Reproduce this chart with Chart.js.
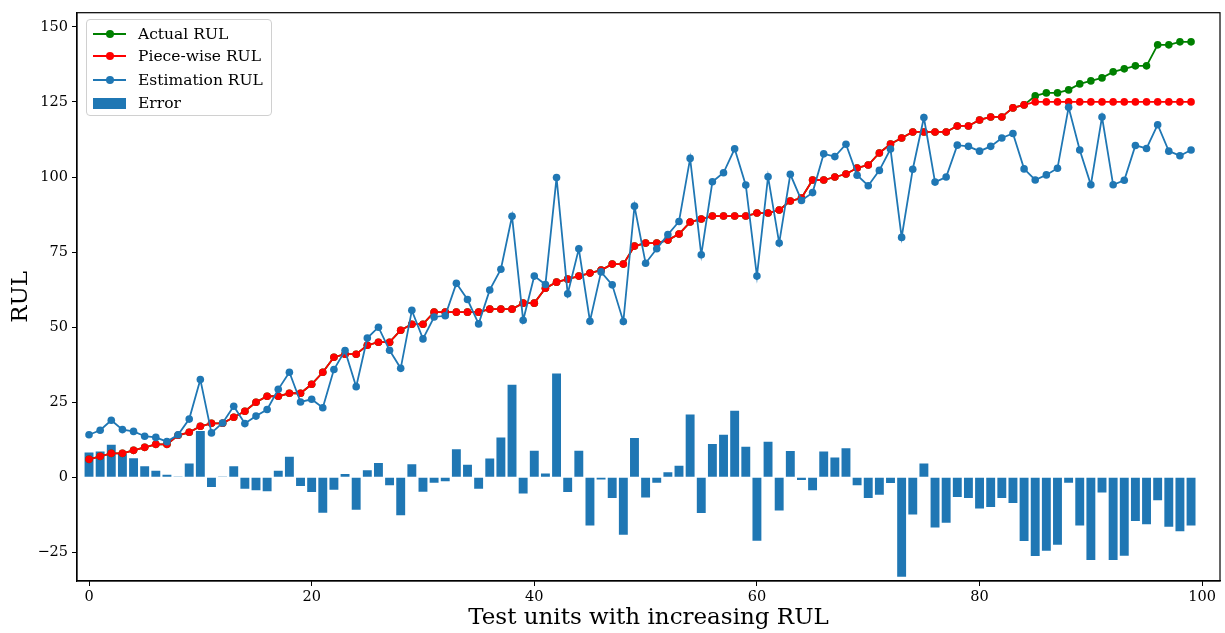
<!DOCTYPE html>
<html>
<head>
<meta charset="utf-8">
<script src="https://cdn.jsdelivr.net/npm/chart.js@4.4.1/dist/chart.umd.min.js"></script>
<style>
  html, body { margin: 0; padding: 0; background: #fff; }
  #wrap { position: relative; width: 1225px; height: 633px; }
  #legend {
    position: absolute; left: 86px; top: 19px; width: 186px; height: 97px;
    box-sizing: border-box; border: 1px solid #d0d0d0; border-radius: 4px;
    background: rgba(255,255,255,0.85);
    font-family: "DejaVu Serif", serif; font-size: 15.5px; color: #000;
  }
  .row { position: absolute; left: 0; height: 20px; width: 100%; }
  .row .txt { position: absolute; left: 51px; top: 0; line-height: 20px; white-space: nowrap; }
  .row .ln { position: absolute; left: 6px; top: 9px; width: 33px; height: 2px; }
  .row .dot { position: absolute; left: 18.5px; top: 6px; width: 8px; height: 8px; border-radius: 50%; }
  .row .patch { position: absolute; left: 6px; top: 4.5px; width: 33px; height: 11px; }
</style>
</head>
<body>
<div id="wrap">
  <canvas id="c" width="1225" height="633"></canvas>
  <div id="legend">
    <div class="row" style="top:3.7px"><div class="ln" style="background:#008000"></div><div class="dot" style="background:#008000"></div><div class="txt">Actual RUL</div></div>
    <div class="row" style="top:26.3px"><div class="ln" style="background:#ff0000"></div><div class="dot" style="background:#ff0000"></div><div class="txt">Piece-wise RUL</div></div>
    <div class="row" style="top:49.7px"><div class="ln" style="background:#1f77b4"></div><div class="dot" style="background:#1f77b4"></div><div class="txt">Estimation RUL</div></div>
    <div class="row" style="top:73px"><div class="patch" style="background:#1f77b4"></div><div class="txt">Error</div></div>
  </div>
</div>
<script>
// ---- data ----
const units = [0,1,2,3,4,5,6,7,8,9,10,11,12,13,14,15,16,17,18,19,20,21,22,23,24,25,26,27,28,29,30,31,32,33,34,35,36,37,38,39,40,41,42,43,44,45,46,47,48,49,50,51,52,53,54,55,56,57,58,59,60,61,62,63,64,65,66,67,68,69,70,71,72,73,74,75,76,77,78,79,80,81,82,83,84,85,86,87,88,89,90,91,92,93,94,95,96,97,98,99];

const actualRUL = [6,7,8,8,9,10,11,11,14,15,17,18,18,20,22,25,27,27,28,28,31,35,40,41,41,44,45,45,49,51,51,55,55,55,55,55,56,56,56,58,58,63,65,66,67,68,69,71,71,77,78,78,79,81,85,86,87,87,87,87,88,88,89,92,93,99,99,100,101,103,104,108,111,113,115,115,115,115,117,117,119,120,120,123,124,127,128,128,129,131,132,133,135,136,137,137,144,144,145,145];

const piecewiseRUL = [6,7,8,8,9,10,11,11,14,15,17,18,18,20,22,25,27,27,28,28,31,35,40,41,41,44,45,45,49,51,51,55,55,55,55,55,56,56,56,58,58,63,65,66,67,68,69,71,71,77,78,78,79,81,85,86,87,87,87,87,88,88,89,92,93,99,99,100,101,103,104,108,111,113,115,115,115,115,117,117,119,120,120,123,124,125,125,125,125,125,125,125,125,125,125,125,125,125,125,125];

const estimationRUL = [14.2,15.7,19.0,15.9,15.3,13.7,13.3,11.9,14.2,19.4,32.6,14.8,18.1,23.7,17.9,20.4,22.6,29.3,35.0,25.1,26.0,23.2,35.9,42.2,30.2,46.4,50.0,42.3,36.3,55.6,46.1,53.4,53.8,64.6,59.2,51.1,62.4,69.3,86.9,52.3,67.0,64.2,99.8,61.1,76.1,52.0,68.4,64.1,51.9,90.3,71.3,76.1,80.8,85.2,106.2,74.1,98.4,101.4,109.4,97.3,67.0,100.1,78.0,100.9,92.2,94.8,107.7,106.8,110.9,100.6,97.1,102.2,109.3,79.9,102.6,119.8,98.3,100.0,110.6,110.2,108.6,110.2,113.0,114.5,102.7,99.0,100.7,102.9,123.2,109.0,97.4,120.0,97.4,98.9,110.5,109.5,117.4,108.6,107.1,109.0];

const errorRUL = [8.3,8.6,10.9,7.9,6.4,3.7,2.2,0.9,0.3,4.6,15.4,-3.2,0.1,3.7,-3.8,-4.3,-4.6,2.2,6.9,-2.9,-4.9,-11.8,-4.1,1.1,-10.8,2.4,4.8,-2.6,-12.6,4.4,-4.8,-1.8,-1.3,9.4,4.2,-3.8,6.3,13.3,30.8,-5.4,8.9,1.3,34.6,-4.9,8.9,-16.0,-0.7,-6.9,-19.1,13.1,-6.7,-1.8,1.7,3.9,20.9,-11.9,11.1,14.2,22.2,10.2,-21.1,11.9,-11.0,8.8,-0.9,-4.3,8.6,6.6,9.7,-2.6,-6.9,-5.8,-1.9,-33.1,-12.4,4.6,-16.7,-15.1,-6.5,-6.9,-10.4,-9.9,-6.9,-8.5,-21.2,-26.2,-24.4,-22.4,-1.8,-16.0,-27.5,-5.0,-27.5,-26.1,-14.5,-15.6,-7.6,-16.4,-17.9,-16.0];

const xTickValues = [0, 20, 40, 60, 80, 100];
const yTickValues = [-25, 0, 25, 50, 75, 100, 125, 150];

// ---- build chart ----
const pts = arr => units.map((u, i) => ({ x: u, y: arr[i] }));
const SERIF = "'DejaVu Serif', serif";

const framePlugin = {
  id: 'frame',
  afterDatasetsDraw(chart) {
    const { ctx, chartArea: a } = chart;
    ctx.save();
    ctx.strokeStyle = '#000';
    ctx.lineWidth = 1.2;
    ctx.strokeRect(a.left, a.top, a.right - a.left, a.bottom - a.top);
    ctx.restore();
  }
};

const lineDs = (label, data, color, order) => ({
  type: 'line', label, data: pts(data), order,
  borderColor: color, backgroundColor: color,
  borderWidth: 1.8, pointRadius: 3.8, pointBorderWidth: 0,
  pointBackgroundColor: color, tension: 0, fill: false
});

new Chart(document.getElementById('c'), {
  type: 'bar',
  data: {
    datasets: [
      lineDs('Actual RUL', actualRUL, '#008000', 2),
      lineDs('Piece-wise RUL', piecewiseRUL, '#ff0000', 1),
      lineDs('Estimation RUL', estimationRUL, '#1f77b4', 0),
      { type: 'bar', label: 'Error', data: pts(errorRUL), order: 3,
        backgroundColor: '#1f77b4', borderWidth: 0,
        barPercentage: 1.0, categoryPercentage: 0.8 }
    ]
  },
  options: {
    responsive: false, animation: false, devicePixelRatio: 1, events: [],
    layout: { padding: { top: 11, right: 5, left: 0, bottom: 0 } },
    plugins: { legend: { display: false }, tooltip: { enabled: false } },
    scales: {
      x: {
        type: 'linear', min: -1.08, max: 101.6, offset: false,
        afterBuildTicks: ax => { ax.ticks = xTickValues.map(v => ({ value: v })); },
        afterFit: ax => { ax.height = 52; },
        grid: { display: true, offset: false, drawOnChartArea: false, drawTicks: true, tickLength: 5, tickColor: '#000', tickWidth: 1 },
        border: { display: true, color: '#000', width: 1.2 },
        ticks: { color: '#000', padding: 3, maxRotation: 0, font: { family: SERIF, size: 14.5 } },
        title: { display: true, text: 'Test units with increasing RUL', color: '#000',
                 font: { family: SERIF, size: 23 }, padding: { top: 0, bottom: 1 } }
      },
      y: {
        type: 'linear', min: -34.5, max: 154.7,
        afterBuildTicks: ax => { ax.ticks = yTickValues.map(v => ({ value: v })); },
        afterFit: ax => { ax.width = 77; },
        grid: { display: true, offset: false, drawOnChartArea: false, drawTicks: true, tickLength: 5, tickColor: '#000', tickWidth: 1 },
        border: { display: true, color: '#000', width: 1.2 },
        ticks: { color: '#000', padding: 4, font: { family: SERIF, size: 14.5 },
                 callback: v => v < 0 ? '\u2212' + Math.abs(v) : String(v) },
        title: { display: true, text: 'RUL', color: '#000',
                 font: { family: SERIF, size: 23 }, padding: { top: 7, bottom: 0 } }
      }
    }
  },
  plugins: [framePlugin]
});
</script>
</body>
</html>
